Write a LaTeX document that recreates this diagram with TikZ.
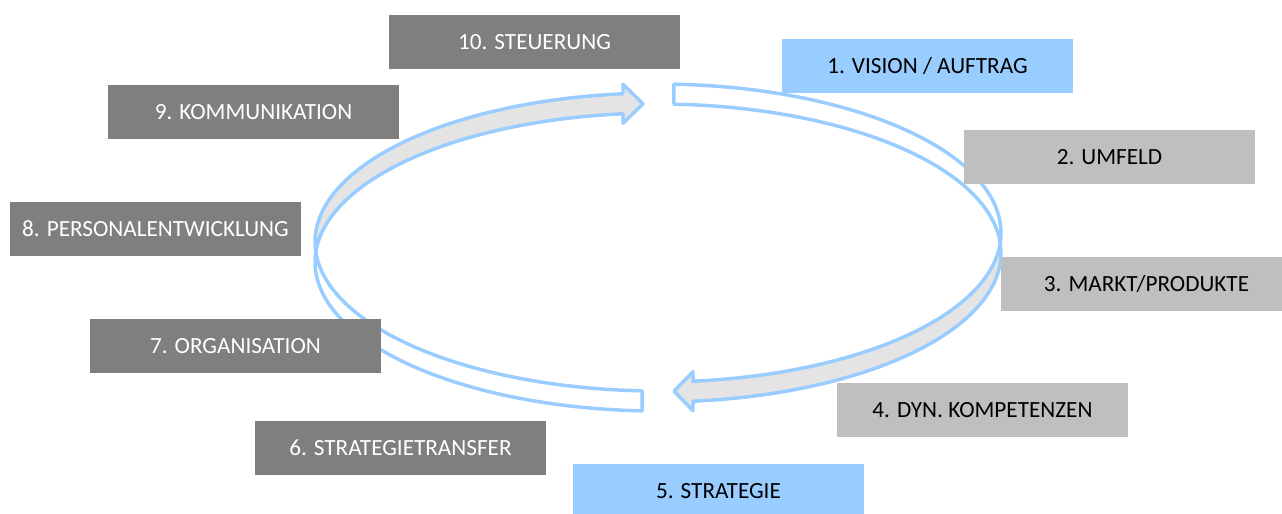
\documentclass[tikz,border=0pt]{standalone}
\usepackage{fontspec}
\setmainfont{Carlito}
\definecolor{dgrey}{HTML}{7F7F7F}
\definecolor{lgrey}{HTML}{BFBFBF}
\definecolor{lblue}{HTML}{99CCFF}
\definecolor{ribbon}{HTML}{E4E4E4}
\begin{document}
\begin{tikzpicture}[x=0.75pt,y=-0.75pt,
  box/.style={minimum width=218.25pt,minimum height=40.5pt,inner sep=0pt,font=\fontsize{17.4}{20}\selectfont},
  darkbox/.style={box,fill=dgrey,text=white},
  greybox/.style={box,fill=lgrey,text=black},
  bluebox/.style={box,fill=lblue,text=black},
  backband/.style={draw=lblue,line width=2.6pt,line join=round,fill=white},
  frontband/.style={draw=lblue,line width=2.6pt,line join=round,fill=ribbon}]
\useasboundingbox (0,0) rectangle (1282,514);
% right circular arrow (top -> right -> bottom)
\path[backband] plot[domain=-87.33:3.85,samples=60,variable=\t] ({658+343*cos(\t)},{233+149*sin(\t)})
  -- plot[domain=-3.85:-87.33,samples=60,variable=\t] ({658+343*cos(\t)},{253+149*sin(\t)}) -- cycle;
\path[frontband] plot[domain=3.85:84.14,samples=60,variable=\t] ({658+343*cos(\t)},{233+149*sin(\t)})
  -- (693,371.7) -- (674,391.2) -- (693,410.7)
  -- plot[domain=84.14:-3.85,samples=60,variable=\t] ({658+343*cos(\t)},{253+149*sin(\t)}) -- cycle;
% left circular arrow (bottom -> left -> top)
\path[backband] plot[domain=92.67:176.15,samples=60,variable=\t] ({658+343*cos(\t)},{242+149*sin(\t)})
  -- plot[domain=183.85:92.67,samples=60,variable=\t] ({658+343*cos(\t)},{262+149*sin(\t)}) -- cycle;
\path[frontband] plot[domain=176.15:264.14,samples=60,variable=\t] ({658+343*cos(\t)},{242+149*sin(\t)})
  -- (623,84.3) -- (643,103.8) -- (623,123.3)
  -- plot[domain=264.14:183.85,samples=60,variable=\t] ({658+343*cos(\t)},{262+149*sin(\t)}) -- cycle;
% boxes
\node[darkbox] (b10) at (534.5,42) {10. STEUERUNG};
\node[bluebox] (b1) at (927.5,66) {1. VISION / AUFTRAG};
\node[darkbox] (b9) at (253.5,112) {9. KOMMUNIKATION};
\node[greybox] (b2) at (1109.5,157) {2. UMFELD};
\node[darkbox] (b8) at (155.5,229) {8. PERSONALENTWICKLUNG};
\node[greybox] (b3) at (1146.5,284) {3. MARKT/PRODUKTE};
\node[darkbox] (b7) at (235.5,346) {7. ORGANISATION};
\node[greybox] (b4) at (982.5,410) {4. DYN. KOMPETENZEN};
\node[darkbox] (b6) at (400.5,448) {6. STRATEGIETRANSFER};
\node[bluebox] (b5) at (718.5,491) {5. STRATEGIE};
\end{tikzpicture}
\end{document}
